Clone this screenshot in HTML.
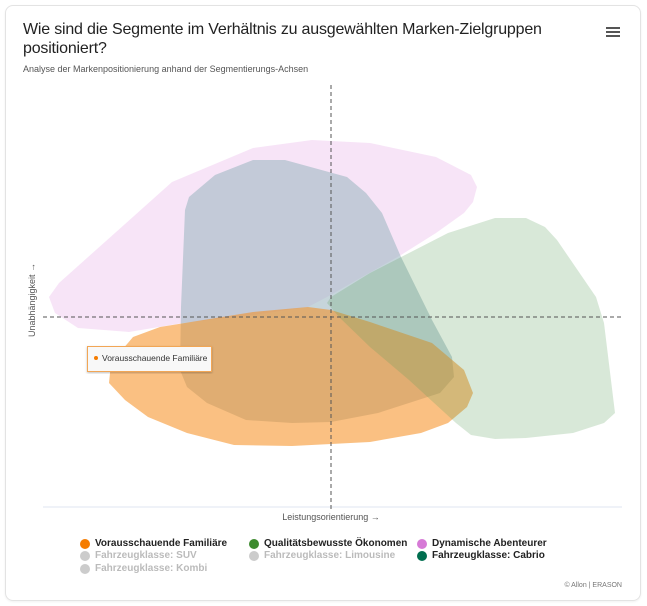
<!DOCTYPE html>
<html><head><meta charset="utf-8"><style>
body{margin:0;background:#fff;font-family:"Liberation Sans",sans-serif;}
.card{position:absolute;left:5px;top:5px;width:634px;height:594px;border:1px solid #e3e3e3;border-radius:8px;box-shadow:0 1px 2px rgba(0,0,0,.06);}
.t{position:absolute;left:23px;top:20px;font-size:16px;line-height:19px;color:#222;width:600px;letter-spacing:-0.2px;}
.s{position:absolute;left:23px;top:64px;font-size:9px;color:#555;}
.hb{position:absolute;left:606px;top:27px;width:14px;}
.hb i{display:block;height:2px;background:#555;margin-bottom:2px;}
.lg{position:absolute;font-size:10px;font-weight:bold;color:#222;white-space:nowrap;}
.lg b{position:absolute;left:-15px;top:1px;width:10px;height:10px;border-radius:50%;}
.g{color:#bbb}
</style></head><body>
<div class="card"></div>
<div class="t">Wie sind die Segmente im Verhältnis zu ausgewählten Marken-Zielgruppen<br>positioniert?</div>
<div class="s">Analyse der Markenpositionierung anhand der Segmentierungs-Achsen</div>
<div class="hb"><i></i><i></i><i></i></div>
<svg width="647" height="606" style="position:absolute;left:0;top:0">
<defs><filter id="sh"><feDropShadow dx="0" dy="1" stdDeviation="1" flood-opacity="0.25"/></filter></defs>
<polygon fill="rgba(222,140,222,0.23)" points="49,297 59,283 172,182 253,148 312,140 370,143 436,157 471,175 477,187 473,202 464,213 436,233 401,255 362,277 327,297 308,307 253,315 183,323 129,332 78,328 55,313"/>
<polygon fill="rgba(160,185,195,0.6)" points="189,197 215,175 253,160 285,160 347,177 366,193 382,213 401,257 432,320 452,357 454,377 440,393 378,413 331,422 292,423 246,420 207,403 187,387 180,370 181,307 185,210"/>
<polygon fill="rgba(246,140,28,0.55)" points="109,383 111,363 133,337 160,327 253,312 308,307 331,310 370,322 432,343 464,370 473,393 467,407 448,423 421,433 370,442 292,446 234,445 187,433 148,417 125,400"/>
<polygon fill="rgba(90,160,90,0.24)" points="327,303 331,297 370,273 409,253 448,233 495,218 526,218 545,227 557,240 596,297 604,323 615,413 604,423 573,433 526,438 495,439 471,435 456,423 409,380 370,347 339,317"/>
<line x1="43" y1="507" x2="622" y2="507" stroke="#dfe6f2" stroke-width="1"/>
<line x1="331" y1="85" x2="331" y2="510" stroke="#555" stroke-dasharray="4,3" stroke-width="1"/>
<line x1="43" y1="317" x2="622" y2="317" stroke="#555" stroke-dasharray="4,3" stroke-width="1"/>
<text x="331" y="520" font-size="9" fill="#555" text-anchor="middle" font-family="Liberation Sans">Leistungsorientierung →</text>
<text transform="translate(35,300) rotate(-90)" font-size="9" fill="#555" text-anchor="middle" font-family="Liberation Sans">Unabhängigkeit →</text>
<rect x="87.5" y="346.5" width="124" height="25" fill="#f8f8f8" stroke="#f2a654" stroke-width="1" filter="url(#sh)"/>
<circle cx="96" cy="358" r="2" fill="#f57c00"/>
<text x="102" y="361" font-size="8.5" fill="#333" font-family="Liberation Sans">Vorausschauende Familiäre</text>
<text x="622" y="587" font-size="7" fill="#777" text-anchor="end" font-family="Liberation Sans">© Allon | ERASON</text>
</svg>
<div class="lg" style="left:95px;top:538px"><b style="background:#f57c00"></b>Vorausschauende Familiäre</div>
<div class="lg" style="left:264px;top:538px"><b style="background:#3d8a2e"></b>Qualitätsbewusste Ökonomen</div>
<div class="lg" style="left:432px;top:538px"><b style="background:#d67ad6"></b>Dynamische Abenteurer</div>
<div class="lg g" style="left:95px;top:550px"><b style="background:#ccc"></b>Fahrzeugklasse: SUV</div>
<div class="lg g" style="left:264px;top:550px"><b style="background:#ccc"></b>Fahrzeugklasse: Limousine</div>
<div class="lg" style="left:432px;top:550px"><b style="background:#006e4f"></b>Fahrzeugklasse: Cabrio</div>
<div class="lg g" style="left:95px;top:563px"><b style="background:#ccc"></b>Fahrzeugklasse: Kombi</div>
</body></html>
